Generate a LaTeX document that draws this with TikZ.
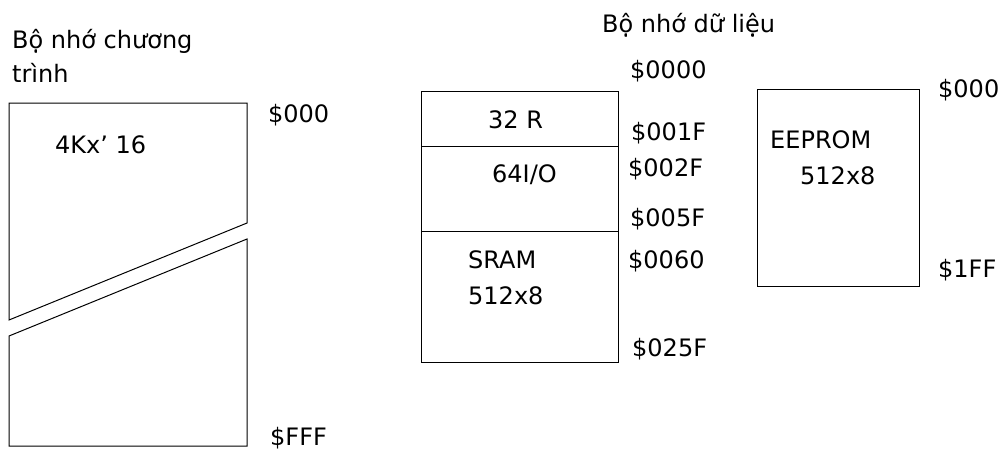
\documentclass[tikz,border=0pt]{standalone}
\usepackage{fontspec}
\setmainfont{DejaVu Sans}
\usetikzlibrary{positioning}

\begin{document}
\begin{tikzpicture}[
  x=1pt, y=-1pt,
  lbl/.style={anchor=base west, inner sep=0pt, font=\fontsize{24}{34}\selectfont},
  mem/.style={draw, line width=1pt}
]
\useasboundingbox (0,0) rectangle (1008,451);

% program memory
\node[lbl] (prgtitle) at (12,48) {Bộ nhớ chương};
\node[lbl] (prgtitle2) at (12,82) {trình};
\draw[mem] (9,103) -- (247,103) -- (247,223) -- (9,320) -- cycle;
\draw[mem] (9,336) -- (247,239) -- (247,446) -- (9,446) -- cycle;
\node[lbl] (prgsize) at (55,153) {4Kx’ 16};
\node[lbl] (prgtop) at (268,122) {\$000};
\node[lbl] (prgend) at (270,445) {\$FFF};

% data memory
\node[lbl] (dattitle) at (602,32) {Bộ nhớ dữ liệu};
\draw[mem] (421,91) rectangle (618,146);
\draw[mem] (421,146) rectangle (618,231);
\draw[mem] (421,231) rectangle (618,362);
\node[lbl] (reg)  at (488,128) {32 R};
\node[lbl] (io)   at (492,182) {64I/O};
\node[lbl] (sram) at (468,268) {SRAM};
\node[lbl] (sramsize) at (468,304) {512x8};
\node[lbl] (a0000) at (630,78)  {\$0000};
\node[lbl] (a001f) at (631,140) {\$001F};
\node[lbl] (a002f) at (628,176) {\$002F};
\node[lbl] (a005f) at (630,226) {\$005F};
\node[lbl] (a0060) at (628,268) {\$0060};
\node[lbl] (a025f) at (632,356) {\$025F};

% eeprom
\draw[mem] (757,89) rectangle (919,286);
\node[lbl] (eep) at (770,148) {EEPROM};
\node[lbl] (eepsize) at (800,184) {512x8};
\node[lbl] (eeptop) at (938,97)  {\$000};
\node[lbl] (eepend) at (938,277) {\$1FF};

\end{tikzpicture}
\end{document}
